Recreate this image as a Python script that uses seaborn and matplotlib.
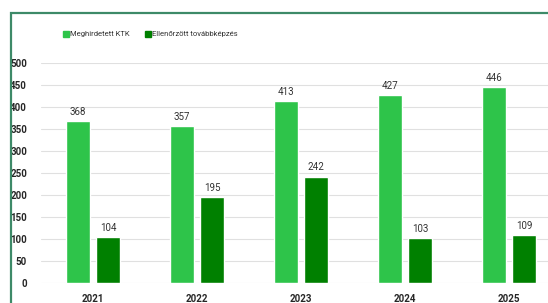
import pandas as pd
import seaborn as sns
import matplotlib.pyplot as plt
from matplotlib.patches import Rectangle

years = ['2021', '2022', '2023', '2024', '2025']
meghirdetett = [368, 357, 413, 427, 446]
ellenorzott = [104, 195, 242, 103, 109]
series = ['Meghirdetett KTK', 'Ellenőrzött továbbképzés']
colors = ['#2ec44a', '#008000']

df = pd.DataFrame({
    'ev': years * 2,
    'ertek': meghirdetett + ellenorzott,
    'sorozat': [series[0]] * len(years) + [series[1]] * len(years),
})

sns.set_style('white')
plt.rcParams['font.family'] = ['Roboto', 'DejaVu Sans']

fig = plt.figure(figsize=(5.48, 3.03), dpi=100)
ax = fig.add_axes([41 / 548, 20 / 303, 1 - 41 / 548, 220 / 303])

sns.barplot(data=df, x='ev', y='ertek', hue='sorozat', palette=colors,
            width=0.58, gap=0.22, saturation=1, ax=ax, legend=False)

for c in ax.containers:
    ax.bar_label(c, padding=3, fontsize=7, color='#333333')

# keret
fig.patches.append(Rectangle((10.5 / 548, -0.1), 1.2, (303 - 12.5) / 303 + 0.1,
                             transform=fig.transFigure, fill=False,
                             edgecolor='#3d8a68', linewidth=1.6))

ax.set_ylim(0, 500)
ax.set_yticks(range(0, 501, 50))
ax.set_xlim(-0.5, -0.5 + (548 - 41) / 104)
ax.grid(axis='y', color='#e0e0e0', linewidth=0.8)
ax.set_axisbelow(True)
sns.despine(ax=ax, left=True, bottom=True)
ax.set_xlabel('')
ax.set_ylabel('')
ax.tick_params(axis='both', length=0, labelsize=7, pad=8)
ax.tick_params(axis='y', pad=10)
for lbl in ax.get_xticklabels() + ax.get_yticklabels():
    lbl.set_fontweight('bold')
ax.patch.set_alpha(0)

# jelmagyarázat
lx = [63, 145]
for x, s, col in zip(lx, series, colors):
    fig.patches.append(Rectangle((x / 548, 1 - 36.5 / 303), 5.5 / 548, 5.5 / 303,
                                 transform=fig.transFigure, color=col))
    fig.text((x + 7.5) / 548, 1 - 34 / 303, s, fontsize=5.5, va='center', color='#333333')

fig.savefig('out.png', dpi=100)
